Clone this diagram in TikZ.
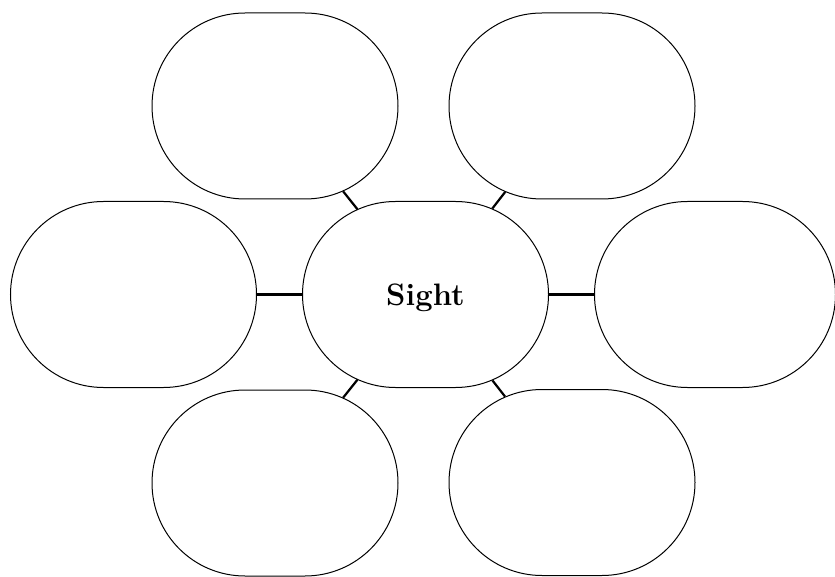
\documentclass[tikz,border=0pt]{standalone}
\usepackage{fontspec}
\usetikzlibrary{shapes.misc}

\begin{document}
\begin{tikzpicture}[x=1pt,y=-1pt,
 bubble/.style={draw,rounded rectangle,line width=1pt,minimum width=246pt,minimum height=186pt,inner sep=0pt},
 link/.style={line width=2.2pt}]
\useasboundingbox (0,0) rectangle (835,577);
\node[bubble,font=\bfseries\fontsize{31}{36}\selectfont,text depth=0pt] (sight) at (425.5,294.5) {Sight};
\node[bubble] (topleft) at (275,106) {};
\node[bubble] (topright) at (572,106) {};
\node[bubble] (left) at (133.5,294.5) {};
\node[bubble,minimum width=241pt] (right) at (715,294.5) {};
\node[bubble] (botleft) at (275,483) {};
\node[bubble] (botright) at (572,482.5) {};
\draw[link] (sight)--(topleft);\draw[link] (sight)--(topright);
\draw[link] (sight)--(left);\draw[link] (sight)--(right);
\draw[link] (sight)--(botleft);\draw[link] (sight)--(botright);
\end{tikzpicture}
\end{document}
